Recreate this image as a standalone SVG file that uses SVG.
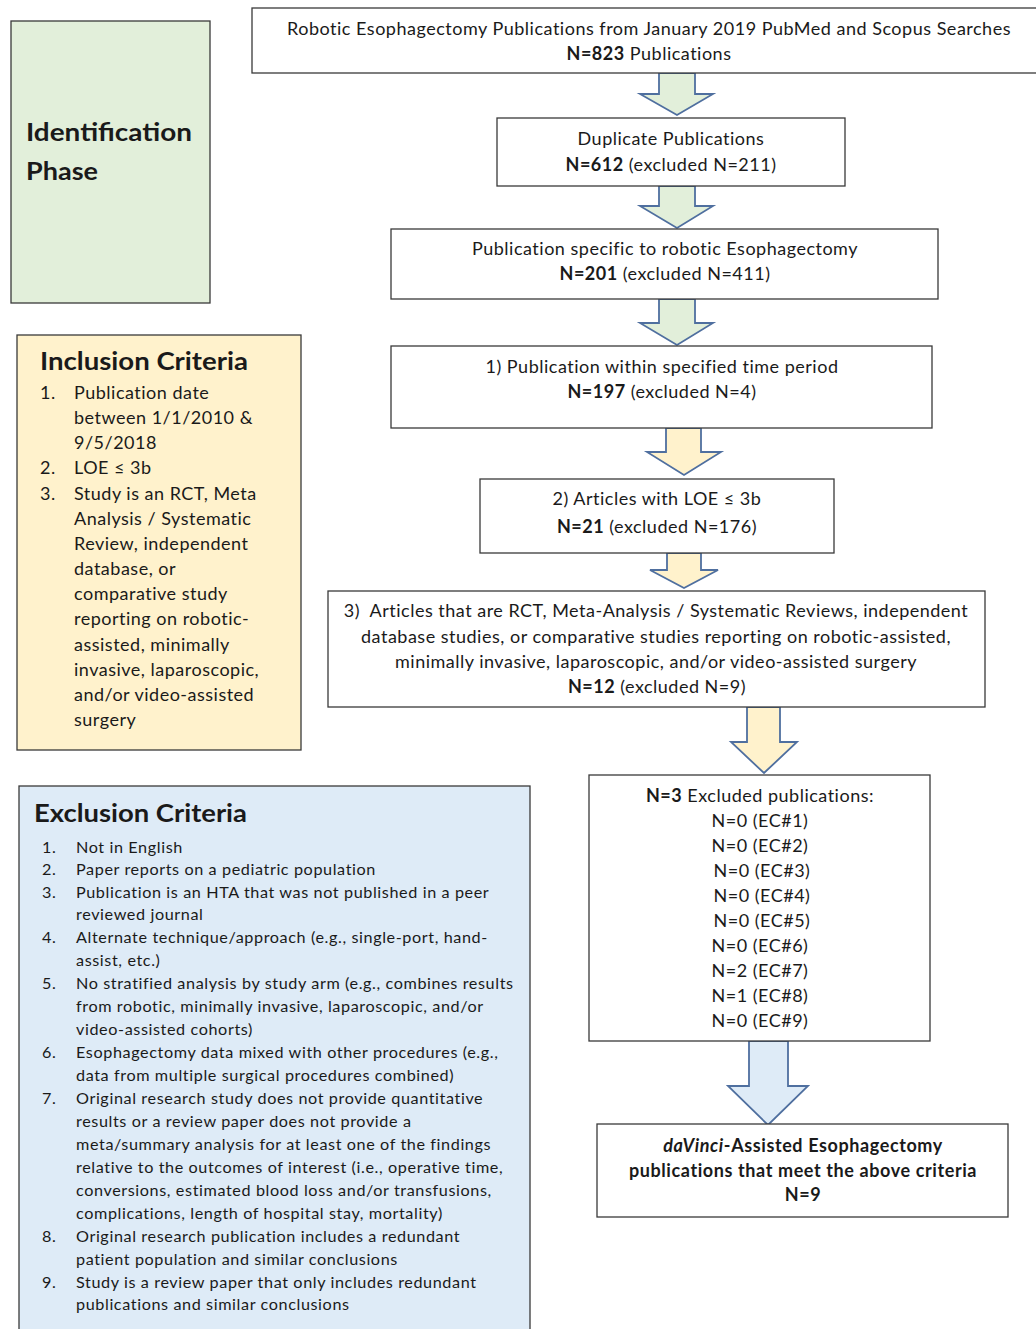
<svg xmlns="http://www.w3.org/2000/svg" width="1036" height="1329" viewBox="0 0 1036 1329">
<style>
text{font-family:Lato,"Liberation Sans",sans-serif;fill:#1a1a1a}
.box{fill:#fff;stroke:#3a3a3a;stroke-width:1.3}
.t{font-size:18px;text-anchor:middle;letter-spacing:0.5px}
.b{font-weight:bold}
.fb{letter-spacing:0.6px}
.title{font-size:25px;font-weight:bold}
.inc{font-size:18px;letter-spacing:0.5px}
.exc{font-size:16.2px;letter-spacing:0.6px}
.ag{fill:#e2efda;stroke:#4f6f9f;stroke-width:1.8}
.ay{fill:#fff2cc;stroke:#4f6f9f;stroke-width:1.8}
.ab{fill:#deebf7;stroke:#4f6f9f;stroke-width:1.8}
</style>
<rect width="1036" height="1329" fill="#fff"/>

<g id="connectors">
<polygon class="ag" points="659,73 695,73 695,94 713,94 677,115 640,94 659,94"/>
<polygon class="ag" points="659,186 695,186 695,206 713,206 677,228 640,206 659,206"/>
<polygon class="ag" points="659,299 695,299 695,323 713,323 677,345 640,323 659,323"/>
<polygon class="ay" points="666,428 701,428 701,452 721,452 684,475 647,452 666,452"/>
<polygon class="ay" points="667,553 701,553 701,570 718,570 684,588 650,570 667,570"/>
<polygon class="ay" points="747,707 780,707 780,742 797,742 764,773 731,742 747,742"/>
<polygon class="ab" points="749,1041 788,1041 788,1086 808,1086 768,1125 728,1086 749,1086"/>
</g>

<g id="identification">
<rect x="11" y="21" width="199" height="282" fill="#e2efda" stroke="#3a3a3a" stroke-width="1.3"/>
<text x="26" y="141" class="title" textLength="166" lengthAdjust="spacingAndGlyphs">Identification</text>
<text x="26" y="180" class="title" textLength="72" lengthAdjust="spacingAndGlyphs">Phase</text>
</g>

<g id="search">
<rect class="box" x="252" y="8" width="800" height="65"/>
<text x="649" y="35" class="t" textLength="724" lengthAdjust="spacingAndGlyphs">Robotic Esophagectomy Publications from January 2019 PubMed and Scopus Searches</text>
<text x="649" y="60" class="t"><tspan class="b">N=823</tspan> Publications</text>
</g>

<g id="duplicates">
<rect class="box" x="497" y="118" width="348" height="68"/>
<text x="671" y="145" class="t">Duplicate Publications</text>
<text x="671" y="171" class="t"><tspan class="b">N=612</tspan> (excluded N=211)</text>
</g>

<g id="specific">
<rect class="box" x="391" y="229" width="547" height="70"/>
<text x="665" y="255" class="t">Publication specific to robotic Esophagectomy</text>
<text x="665" y="280" class="t"><tspan class="b">N=201</tspan> (excluded N=411)</text>
</g>

<g id="timeperiod">
<rect class="box" x="391" y="346" width="541" height="82"/>
<text x="662" y="373" class="t">1) Publication within specified time period</text>
<text x="662" y="398" class="t"><tspan class="b">N=197</tspan> (excluded N=4)</text>
</g>

<g id="loe">
<rect class="box" x="480" y="479" width="354" height="74"/>
<text x="657" y="505" class="t">2) Articles with LOE ≤ 3b</text>
<text x="657" y="533" class="t"><tspan class="b">N=21</tspan> (excluded N=176)</text>
</g>

<g id="studytype">
<rect class="box" x="328" y="591" width="657" height="116"/>
<text x="656" y="617" class="t">3)&#160; Articles that are RCT, Meta-Analysis / Systematic Reviews, independent</text>
<text x="656" y="643" class="t">database studies, or comparative studies reporting on robotic-assisted,</text>
<text x="656" y="668" class="t">minimally invasive, laparoscopic, and/or video-assisted surgery</text>
<text x="657" y="693" class="t"><tspan class="b">N=12</tspan> (excluded N=9)</text>
</g>

<g id="excluded">
<rect class="box" x="589" y="775" width="341" height="266"/>
<text x="760" y="802" class="t"><tspan class="b">N=3</tspan> Excluded publications:</text>
<text x="760" y="827" class="t">N=0 (EC#1)</text>
<text x="760" y="852" class="t">N=0 (EC#2)</text>
<text x="762" y="877" class="t">N=0 (EC#3)</text>
<text x="762" y="902" class="t">N=0 (EC#4)</text>
<text x="762" y="927" class="t">N=0 (EC#5)</text>
<text x="760" y="952" class="t">N=0 (EC#6)</text>
<text x="760" y="977" class="t">N=2 (EC#7)</text>
<text x="760" y="1002" class="t">N=1 (EC#8)</text>
<text x="760" y="1027" class="t">N=0 (EC#9)</text>
</g>

<g id="final">
<rect class="box" x="597" y="1124" width="411" height="93"/>
<text x="803" y="1152" class="t b fb"><tspan font-style="italic">daVinci</tspan>-Assisted Esophagectomy</text>
<text x="803" y="1177" class="t b fb">publications that meet the above criteria</text>
<text x="803" y="1201" class="t b fb">N=9</text>
</g>

<g id="inclusion">
<rect x="17" y="335" width="284" height="415" fill="#fff2cc" stroke="#3a3a3a" stroke-width="1.3"/>
<text x="40" y="370" class="title" textLength="208" lengthAdjust="spacingAndGlyphs">Inclusion Criteria</text>
<g class="inc">
<text x="40" y="399">1.</text><text x="74" y="399">Publication date</text>
<text x="74" y="424">between 1/1/2010 &amp;</text>
<text x="74" y="449">9/5/2018</text>
<text x="40" y="474">2.</text><text x="74" y="474">LOE ≤ 3b</text>
<text x="40" y="500">3.</text><text x="74" y="500">Study is an RCT, Meta</text>
<text x="74" y="525">Analysis / Systematic</text>
<text x="74" y="550">Review, independent</text>
<text x="74" y="575">database, or</text>
<text x="74" y="600">comparative study</text>
<text x="74" y="625">reporting on robotic-</text>
<text x="74" y="651">assisted, minimally</text>
<text x="74" y="676">invasive, laparoscopic,</text>
<text x="74" y="701">and/or video-assisted</text>
<text x="74" y="726">surgery</text>
</g>
</g>

<g id="exclusion">
<rect x="19" y="786" width="511" height="560" fill="#deebf7" stroke="#3a3a3a" stroke-width="1.3"/>
<text x="34" y="822" class="title" textLength="213" lengthAdjust="spacingAndGlyphs">Exclusion Criteria</text>
<g class="exc">
<text x="42" y="853">1.</text><text x="76" y="853">Not in English</text>
<text x="42" y="875">2.</text><text x="76" y="875">Paper reports on a pediatric population</text>
<text x="42" y="898">3.</text><text x="76" y="898">Publication is an HTA that was not published in a peer</text>
<text x="76" y="920">reviewed journal</text>
<text x="42" y="943">4.</text><text x="76" y="943">Alternate technique/approach (e.g., single-port, hand-</text>
<text x="76" y="966">assist, etc.)</text>
<text x="42" y="989">5.</text><text x="76" y="989">No stratified analysis by study arm (e.g., combines results</text>
<text x="76" y="1012">from robotic, minimally invasive, laparoscopic, and/or</text>
<text x="76" y="1035">video-assisted cohorts)</text>
<text x="42" y="1058">6.</text><text x="76" y="1058">Esophagectomy data mixed with other procedures (e.g.,</text>
<text x="76" y="1081">data from multiple surgical procedures combined)</text>
<text x="42" y="1104">7.</text><text x="76" y="1104">Original research study does not provide quantitative</text>
<text x="76" y="1127">results or a review paper does not provide a</text>
<text x="76" y="1150">meta/summary analysis for at least one of the findings</text>
<text x="76" y="1173">relative to the outcomes of interest (i.e., operative time,</text>
<text x="76" y="1196">conversions, estimated blood loss and/or transfusions,</text>
<text x="76" y="1219">complications, length of hospital stay, mortality)</text>
<text x="42" y="1242">8.</text><text x="76" y="1242">Original research publication includes a redundant</text>
<text x="76" y="1265">patient population and similar conclusions</text>
<text x="42" y="1288">9.</text><text x="76" y="1288">Study is a review paper that only includes redundant</text>
<text x="76" y="1310">publications and similar conclusions</text>
</g>
</g>
</svg>
